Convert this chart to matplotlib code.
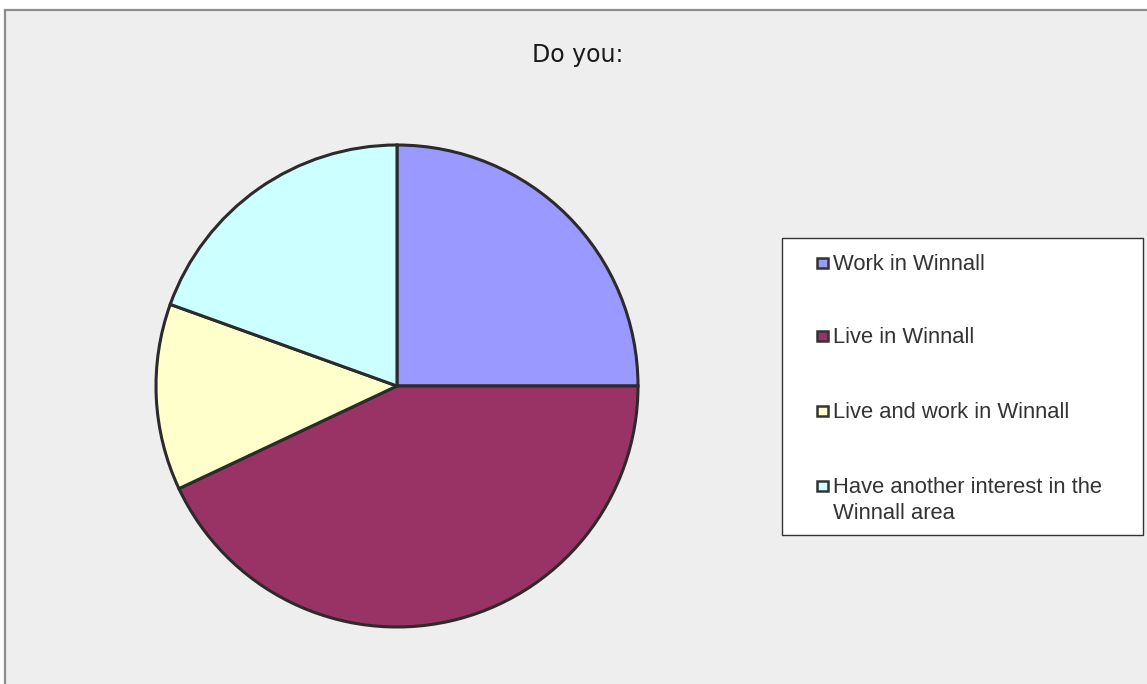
import matplotlib.pyplot as plt
from matplotlib.patches import Rectangle

plt.rcParams["font.family"] = ["Liberation Sans", "DejaVu Sans"]

labels = ["Work in Winnall", "Live in Winnall", "Live and work in Winnall",
          "Have another interest in the\nWinnall area"]
shares = [25.0, 43.0, 12.5, 19.5]
colors = ["#9999FF", "#993366", "#FFFFCC", "#CCFFFF"]

W, H = 1147, 684
fig = plt.figure(figsize=(W / 100, H / 100), dpi=100)
fig.patch.set_facecolor("white")

# chart area background with a thin grey frame
bg = fig.add_axes([0, 0, 1, 1], zorder=0)
bg.add_patch(Rectangle((5 / W, -0.05), 1.1, 1 - 9.5 / H + 0.05,
                       facecolor="#EEEEEE", edgecolor="#8C8C8C",
                       linewidth=1.6))
bg.set_xlim(0, 1)
bg.set_ylim(0, 1)
bg.axis("off")

bg.text(578 / W, 1 - 55 / H, "Do you:", ha="center", va="center",
        fontsize=17, color="#1a1a1a", family=["DejaVu Sans"])

# pie centred at (397, 386) px, radius 241 px
cx, cy, r = 397, 386, 241
ax = fig.add_axes([(cx - r) / W, (H - cy - r) / H, 2 * r / W, 2 * r / H],
                  zorder=2)
ax.pie(shares, colors=colors, startangle=90, counterclock=False, radius=1,
       wedgeprops=dict(edgecolor="#2b2b2b", linewidth=2.2))
ax.set_xlim(-1.0, 1.0)
ax.set_ylim(-1.0, 1.0)
ax.set_aspect("equal")
ax.axis("off")

# legend box
lx0, ly0, lx1, ly1 = 782, 238, 1143, 535
bg.add_patch(Rectangle((lx0 / W, 1 - ly1 / H), (lx1 - lx0) / W,
                       (ly1 - ly0) / H, facecolor="white",
                       edgecolor="#333333", linewidth=1.0))
rows = [263, 336, 411, 486]
for lab, col, y in zip(labels, colors, rows):
    bg.add_patch(Rectangle((817 / W, 1 - (y + 5) / H), 11 / W, 10 / H,
                           facecolor=col, edgecolor="#333333",
                           linewidth=1.8))
    extra = 26 * lab.count("\n")
    bg.text(833 / W, 1 - (y + 7 + extra) / H, lab, ha="left",
            va="baseline", fontsize=15.8, color="#333333", linespacing=1.32)

fig.savefig("out.png", dpi=100)
